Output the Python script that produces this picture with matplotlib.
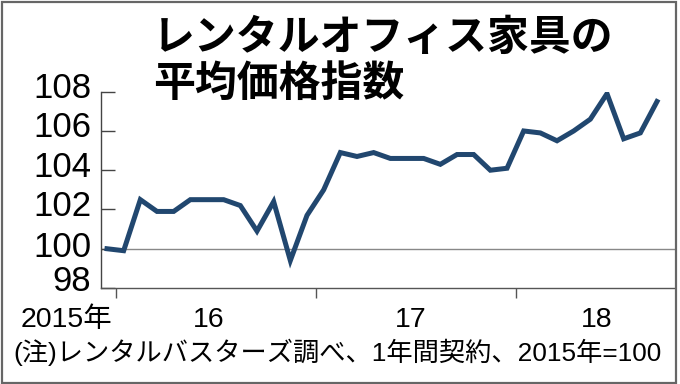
"""
Average price index of rental office furniture (2015 = 100), monthly, with
a gray reference line at 100. Saves out.png at 680x384.
"""
import matplotlib

matplotlib.use("Agg")
import matplotlib.pyplot as plt
from matplotlib.patches import Rectangle

W, H = 680, 384

# 2015 annual value, then monthly 2016-01 .. 2018-09
index_values = [100.0, 99.9, 102.5, 101.9, 101.9, 102.5, 102.5, 102.5, 102.2,
                100.9, 102.4, 99.4, 101.7, 103.0, 104.9, 104.7, 104.9, 104.6,
                104.6, 104.6, 104.3, 104.8, 104.8, 104.0, 104.1, 106.0, 105.9,
                105.5, 106.0, 106.6, 107.9, 105.6, 105.9, 107.5]
year_bounds = [0.55, 12.55, 24.55]
year_labels = ["16", "17", "18"]
year_label_pos = [6.1, 18.2, 29.4]
first_label = "2015年"
y_ticks = [98, 100, 102, 104, 106, 108]
y_label_shift = [0.33, 0.08, 0.15, 0.15, 0.18, 0.16]   # nudges up, in index units

title_1 = "レンタルオフィス家具の"
title_2 = "平均価格指数"
note = "(注)レンタルバスターズ調べ、1年間契約、2015年=100"

LABEL_FONT = ["Liberation Sans", "Noto Sans CJK JP"]
LINE_COLOR = "#21476f"


def fx(px):
    return px / W


def fy(py):
    return 1 - py / H


def fit_width(fig, txt, target_px):
    # shrink/grow a text so it spans target_px
    r = fig.canvas.get_renderer()
    w = txt.get_window_extent(r).width
    txt.set_fontsize(txt.get_fontsize() * target_px / w)


def main():
    fig = plt.figure(figsize=(W / 100, H / 100), dpi=100)
    ax = fig.add_axes([fx(101), fy(288), fx(675) - fx(101), fy(91.7) - fy(288)])

    x = list(range(len(index_values)))
    ax.plot(x, index_values, color=LINE_COLOR, linewidth=3.6,
            solid_joinstyle="miter", zorder=3)
    ax.axhline(100, color="#888888", linewidth=1.0, zorder=1)

    ax.set_xlim(-0.36, 34.08)
    ax.set_ylim(98, 108)

    for side in ("top", "right"):
        ax.spines[side].set_visible(False)
    ax.spines["left"].set_color("#444444")
    ax.spines["bottom"].set_color("#555555")
    ax.spines["left"].set_linewidth(1.0)
    ax.spines["bottom"].set_linewidth(1.0)

    ax.set_yticks(y_ticks)
    ax.set_yticklabels([])
    ax.tick_params(axis="y", direction="in", length=10, width=1.0,
                   color="#444444")
    ytr = ax.get_yaxis_transform()
    for v, dv in zip(y_ticks, y_label_shift):
        ax.text(-10 / 574, v + dv, str(v), transform=ytr, ha="right",
                va="center", fontsize=25, family=LABEL_FONT)

    ax.set_xticks(year_bounds)
    ax.set_xticklabels([])
    ax.tick_params(axis="x", direction="out", length=7.2, width=1.0,
                   color="#555555")

    tr = ax.get_xaxis_transform()
    lab_y = -39 / (288 - 91.7)
    ax.text(0.3, lab_y, first_label, transform=tr, ha="right",
            va="baseline", fontsize=20.5, family=LABEL_FONT)
    for pos, lab in zip(year_label_pos, year_labels):
        ax.text(pos, lab_y, lab, transform=tr, ha="center",
                va="baseline", fontsize=20.5, family=LABEL_FONT)

    fig.text(fx(153), fy(50), title_1, fontsize=30.2, fontweight="bold",
             family="Noto Sans CJK JP", va="baseline")
    fig.text(fx(153), fy(96), title_2, fontsize=30.2, fontweight="bold",
             family="Noto Sans CJK JP", va="baseline")

    t = fig.text(fx(13), fy(361.5), note, fontsize=19.5, va="baseline",
                 family=LABEL_FONT)
    fit_width(fig, t, 650)

    fig.patches.append(Rectangle((fx(1.5), fy(382.5)), fx(674), fy(1.5) - fy(382.5),
                                 transform=fig.transFigure, fill=False,
                                 edgecolor="#666666", linewidth=1.6))

    fig.savefig("out.png", dpi=100)


if __name__ == "__main__":
    main()
